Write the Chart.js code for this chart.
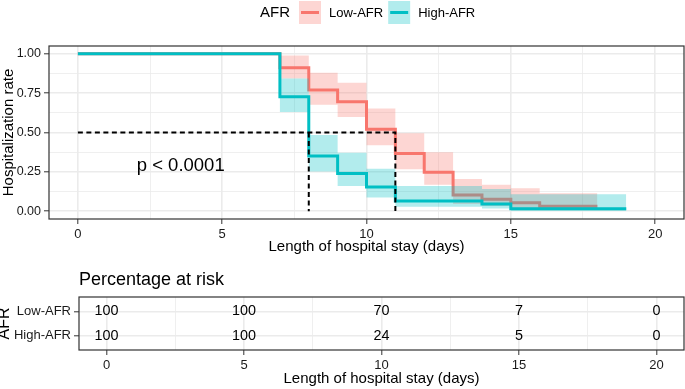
<!DOCTYPE html>
<html>
<head>
<meta charset="utf-8">
<script src="https://cdn.jsdelivr.net/npm/chart.js@4.4.0/dist/chart.umd.min.js"></script>
<style>
  body { margin: 0; background: #fff; }
  #wrap { position: relative; width: 685px; height: 389px; overflow: hidden; }
  #survChart { position: absolute; left: 0; top: 0; }
  #riskChart { position: absolute; left: 0; top: 260px; }
</style>
</head>
<body>
<div id="wrap">
  <canvas id="survChart" width="685" height="260"></canvas>
  <canvas id="riskChart" width="685" height="129"></canvas>
</div>
<script>
// groups
const groups = ['Low-AFR', 'High-AFR'];
const legendTitle = 'AFR';

// Kaplan-Meier steps, Low-AFR
const lowTimes = [0, 7, 8, 9, 10, 11, 12, 13, 14, 15, 16, 18];
const lowSurv = [1, 0.911, 0.77, 0.696, 0.52, 0.366, 0.247, 0.102, 0.076, 0.054, 0.031, 0.031];
const lowUpper = [1, 0.99, 0.88, 0.816, 0.653, 0.495, 0.374, 0.205, 0.167, 0.146, 0.114, 0.114];
const lowLower = [1, 0.843, 0.677, 0.598, 0.419, 0.266, 0.167, 0.045, 0.032, 0.02, 0.008, 0.008];

// Kaplan-Meier steps, High-AFR
const highTimes = [0, 7, 8, 9, 10, 11, 14, 15, 19];
const highSurv = [1, 0.727, 0.351, 0.239, 0.154, 0.064, 0.045, 0.015, 0.015];
const highUpper = [1, 0.843, 0.484, 0.372, 0.27, 0.16, 0.14, 0.108, 0.108];
const highLower = [1, 0.63, 0.252, 0.16, 0.087, 0.028, 0.017, 0.002, 0.002];

// median survival times (dashed guides)
const medianHigh = 8;
const medianLow = 11;
const pText = 'p < 0.0001';

// axes
const xMajor = [0, 5, 10, 15, 20];
const xGrid = [0, 2.5, 5, 7.5, 10, 12.5, 15, 17.5, 20];
const yMajor = [0, 0.25, 0.5, 0.75, 1];
const yGrid = [0, 0.125, 0.25, 0.375, 0.5, 0.625, 0.75, 0.875, 1];

// risk table
const riskTitle = 'Percentage at risk';
const riskTimes = [0, 5, 10, 15, 20];
const riskLow = [100, 100, 70, 7, 0];
const riskHigh = [100, 100, 24, 5, 0];

const FONT = "'Liberation Sans', Arial, sans-serif";
const RED = '#F8766D';
const TEAL = '#00BFC4';
const RED_BAND = 'rgba(248,118,109,0.3)';
const TEAL_BAND = 'rgba(0,191,196,0.3)';
const CLEAR = 'rgba(0,0,0,0)';

Chart.defaults.font.family = FONT;
Chart.defaults.color = '#000';

function toPoints(xs, ys) {
    return xs.map((x, i) => ({ x: x, y: ys[i] }));
}

function gridFor(majors) {
    return {
        color: '#ebebeb',
        lineWidth: c => majors.includes(c.tick.value) ? 1.6 : 0.8,
        drawTicks: true,
        tickLength: 5,
        tickWidth: 1,
        tickColor: c => majors.includes(c.tick.value) ? '#333' : CLEAR
    };
}

const panelBorder = {
    id: 'panelBorder',
    afterDatasetsDraw(chart) {
        const a = chart.chartArea;
        const ctx = chart.ctx;
        ctx.save();
        ctx.strokeStyle = '#333';
        ctx.lineWidth = 1.2;
        ctx.strokeRect(a.left, a.top, a.right - a.left, a.bottom - a.top);
        ctx.restore();
    }
};

const afrLegend = {
    id: 'afrLegend',
    afterDraw(chart) {
        const ctx = chart.ctx;
        ctx.save();
        ctx.textBaseline = 'middle';
        ctx.fillStyle = '#000';
        ctx.font = '15px ' + FONT;
        ctx.fillText(legendTitle, 260, 13);
        const cols = [[RED, RED_BAND], [TEAL, TEAL_BAND]];
        let x = 299;
        ctx.font = '13px ' + FONT;
        groups.forEach((g, i) => {
            ctx.fillStyle = cols[i][1];
            ctx.fillRect(x, 1, 22, 23);
            ctx.strokeStyle = cols[i][0];
            ctx.lineWidth = 3;
            ctx.beginPath();
            ctx.moveTo(x + 2, 12.5);
            ctx.lineTo(x + 20, 12.5);
            ctx.stroke();
            ctx.fillStyle = '#000';
            ctx.fillText(g, x + 30, 13);
            x += 30 + ctx.measureText(g).width + 5;
        });
        ctx.restore();
    }
};

const pLabel = {
    id: 'pLabel',
    afterDatasetsDraw(chart) {
        const ctx = chart.ctx;
        ctx.save();
        ctx.font = '18.5px ' + FONT;
        ctx.fillStyle = '#000';
        ctx.textBaseline = 'alphabetic';
        ctx.fillText(pText, chart.scales.x.getPixelForValue(2.04), chart.scales.y.getPixelForValue(0.255));
        ctx.restore();
    }
};

function stepSet(xs, ys, extra) {
    return Object.assign({
        data: toPoints(xs, ys),
        stepped: 'before',
        pointRadius: 0,
        fill: false,
        borderColor: CLEAR,
        borderWidth: 1
    }, extra);
}

new Chart(document.getElementById('survChart'), {
    type: 'line',
    data: {
        datasets: [
            stepSet(lowTimes, lowUpper, { fill: 1, backgroundColor: RED_BAND, order: 6 }),
            stepSet(lowTimes, lowLower, { order: 6 }),
            stepSet(lowTimes, lowSurv, { borderColor: RED, borderWidth: 3, order: 5 }),
            stepSet(highTimes, highUpper, { fill: 4, backgroundColor: TEAL_BAND, order: 4 }),
            stepSet(highTimes, highLower, { order: 4 }),
            stepSet(highTimes, highSurv, { borderColor: TEAL, borderWidth: 3, order: 3 }),
            {
                data: [{ x: 0, y: 0.5 }, { x: medianLow, y: 0.5 }, { x: medianLow, y: 0 }],
                borderColor: '#000', borderWidth: 2, borderDash: [5, 3.5], pointRadius: 0, fill: false, order: 1
            },
            {
                data: [{ x: medianHigh, y: 0.5 }, { x: medianHigh, y: 0 }],
                borderColor: '#000', borderWidth: 2, borderDash: [5, 3.5], pointRadius: 0, fill: false, order: 1
            }
        ]
    },
    options: {
        responsive: false,
        animation: false,
        layout: { padding: { left: 0, right: 1, top: 46, bottom: 0 } },
        plugins: { legend: { display: false }, tooltip: { enabled: false } },
        scales: {
            x: {
                type: 'linear', min: -1, max: 21,
                afterBuildTicks: s => { s.ticks = xGrid.map(v => ({ value: v })); },
                afterFit: s => { s.height = 41; },
                ticks: {
                    callback: v => xMajor.includes(v) ? String(v) : '',
                    autoSkip: false, maxRotation: 0, padding: 3,
                    font: { size: 13 }, color: '#1a1a1a'
                },
                grid: gridFor(xMajor),
                border: { display: false },
                title: {
                    display: true, text: 'Length of hospital stay (days)',
                    font: { size: 15, lineHeight: 1.2 }, color: '#000',
                    padding: { top: 0, bottom: 4 }
                }
            },
            y: {
                type: 'linear', min: -0.05, max: 1.05,
                afterBuildTicks: s => { s.ticks = yGrid.map(v => ({ value: v })); },
                afterFit: s => { s.width = 49; },
                ticks: {
                    callback: v => yMajor.includes(v) ? v.toFixed(2) : '',
                    autoSkip: false, padding: 3,
                    font: { size: 12.5 }, color: '#1a1a1a'
                },
                grid: gridFor(yMajor),
                border: { display: false },
                title: {
                    display: true, text: 'Hospitalization rate',
                    font: { size: 15, lineHeight: 1.2 }, color: '#000',
                    padding: { top: 0, bottom: 0 }
                }
            }
        }
    },
    plugins: [panelBorder, afrLegend, pLabel]
});

// risk table
const riskText = {
    id: 'riskText',
    afterDatasetsDraw(chart) {
        const ctx = chart.ctx;
        ctx.save();
        ctx.fillStyle = '#000';
        ctx.textAlign = 'center';
        ctx.textBaseline = 'middle';
        ctx.font = '14.4px ' + FONT;
        chart.data.datasets.forEach((ds, di) => {
            chart.getDatasetMeta(di).data.forEach((pt, i) => {
                ctx.fillText(String(ds.values[i]), pt.x, pt.y);
            });
        });
        ctx.textAlign = 'left';
        ctx.textBaseline = 'alphabetic';
        ctx.font = '18px ' + FONT;
        ctx.fillText(riskTitle, chart.chartArea.left, 25);
        ctx.restore();
    }
};

new Chart(document.getElementById('riskChart'), {
    type: 'line',
    data: {
        datasets: [
            { data: riskTimes.map(t => ({ x: t, y: 1 })), values: riskLow, showLine: false, pointRadius: 0 },
            { data: riskTimes.map(t => ({ x: t, y: 2 })), values: riskHigh, showLine: false, pointRadius: 0 }
        ]
    },
    options: {
        responsive: false,
        animation: false,
        layout: { padding: { left: 0, right: 1, top: 37, bottom: 0 } },
        plugins: { legend: { display: false }, tooltip: { enabled: false } },
        scales: {
            x: {
                type: 'linear', min: -1, max: 21,
                afterBuildTicks: s => { s.ticks = xGrid.map(v => ({ value: v })); },
                afterFit: s => { s.height = 39; },
                ticks: {
                    callback: v => xMajor.includes(v) ? String(v) : '',
                    autoSkip: false, maxRotation: 0, padding: 3,
                    font: { size: 13 }, color: '#1a1a1a'
                },
                grid: gridFor(xMajor),
                border: { display: false },
                title: {
                    display: true, text: 'Length of hospital stay (days)',
                    font: { size: 15, lineHeight: 1.2 }, color: '#000',
                    padding: { top: 0, bottom: 1 }
                }
            },
            y: {
                type: 'linear', min: 0.4, max: 2.6, reverse: true,
                afterBuildTicks: s => { s.ticks = [1, 2].map(v => ({ value: v })); },
                afterFit: s => { s.width = 79; },
                ticks: {
                    callback: v => groups[v - 1],
                    autoSkip: false, padding: 3,
                    font: { size: 13 }, color: '#1a1a1a'
                },
                grid: gridFor([1, 2]),
                border: { display: false },
                title: {
                    display: true, text: legendTitle,
                    font: { size: 16, lineHeight: 0.625 }, color: '#000',
                    padding: { top: 0, bottom: 0 }
                }
            }
        }
    },
    plugins: [panelBorder, riskText]
});
</script>
</body>
</html>
